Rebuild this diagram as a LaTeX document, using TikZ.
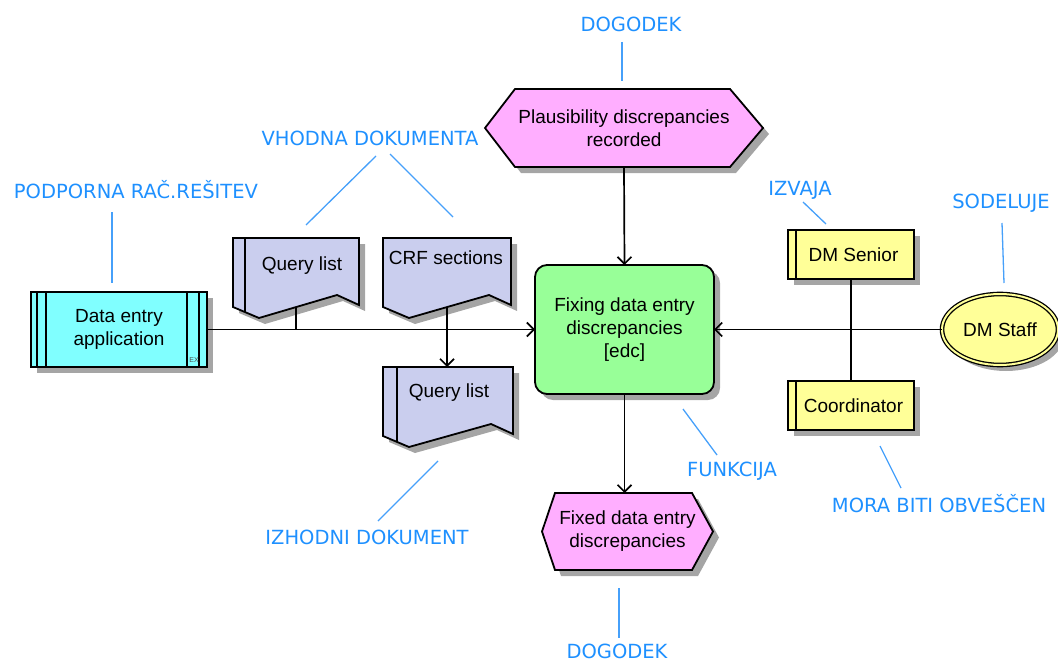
\documentclass[tikz,border=0pt]{standalone}
\usepackage{fontspec}
\setmainfont{Liberation Sans}
\newfontfamily\lblfont{DejaVu Sans}
\usetikzlibrary{arrows.meta,shapes.geometric,shadows,backgrounds}

\definecolor{lblblue}{RGB}{30,144,255}
\definecolor{lnblue}{RGB}{70,160,250}
\definecolor{appfill}{RGB}{128,255,255}
\definecolor{docfill}{RGB}{202,206,238}
\definecolor{evtfill}{RGB}{255,174,255}
\definecolor{fnfill}{RGB}{152,255,152}
\definecolor{orgfill}{RGB}{255,255,152}
\definecolor{shadowgray}{RGB}{165,165,165}

\tikzset{
  txt/.style={font=\fontsize{19}{23}\selectfont, align=center, inner sep=0pt, outer sep=0pt},
  box/.style={txt, draw=black, line width=1.8pt},
  shd/.style={drop shadow={shadow xshift=6pt, shadow yshift=-6pt, fill=shadowgray, opacity=1}},
  evtshape/.style={draw=black, line width=1.8pt, fill=evtfill, shd},
  docshape/.style={draw=black, line width=1.8pt, fill=docfill, shd},
  lbl/.style={font=\lblfont\fontsize{19.5}{23}\selectfont, text=lblblue, inner sep=0pt, text height=14.2pt, text depth=0pt},
  lblline/.style={draw=lnblue, line width=1.3pt},
  conn/.style={draw=black, line width=1.7pt},
  arr/.style={conn, -{Straight Barb[length=7pt, width=14pt]}},
  inner/.style={draw=black, line width=1.5pt},
}

% document symbol: #1,#2 top-left corner, #3 width, #4 name, #5 offset of inner edge (0 = none)
\newcommand\docsym[5]{%
  \begin{scope}[shift={(#1,#2)}]
    \path[docshape] (0,0) -- (#3,0) -- (#3,67) -- (#3-22,57) -- (26,80) -- (0,69) -- cycle;
    \ifnum#5>0 \draw[inner] (#5,0) -- (#5,{69+11*#5/26});\fi
    \coordinate (#4-top) at (#3/2,0);
    \coordinate (#4-tap) at (#3/2,69);
  \end{scope}}

\begin{document}
\begin{tikzpicture}[x=1pt,y=-1pt]
\useasboundingbox (0,0) rectangle (1058,661);

% ---- documents
\docsym{233}{238}{126}{ql1}{12}
\docsym{383}{238}{128}{crf}{0}
\docsym{383}{367}{130}{ql2}{14}
\node[txt] (ql1) at (302,266) {Query list};
\node[txt] (crf) at (446,258) {CRF sections};
\node[txt] (ql2) at (449,393) {Query list};

% ---- application system
\node[box, fill=appfill, shd, minimum width=176pt, minimum height=75pt] (app) at (119,329.5) {Data entry\\application};
\draw[inner] ([xshift=6pt]app.north west) -- ([xshift=6pt]app.south west);
\draw[inner] ([xshift=15pt]app.north west) -- ([xshift=15pt]app.south west);
\draw[inner] ([xshift=-20pt]app.north east) -- ([xshift=-20pt]app.south east);
\draw[inner] ([xshift=-8pt]app.north east) -- ([xshift=-8pt]app.south east);
\node[font=\fontsize{7}{7}\selectfont, text=black!70, inner sep=0pt] (ex) at (194,360) {EX};

% ---- function
\node[box, rounded corners=12pt, fill=fnfill, shd, minimum width=179pt, minimum height=129pt] (edc) at (624.5,329.5) {Fixing data entry\\discrepancies\\{[edc]}};

% ---- events
\node[txt, minimum width=278pt, minimum height=78pt] (plaus) at (624,128) {Plausibility discrepancies\\recorded};
\node[txt, minimum width=171pt, minimum height=77pt] (fix) at (627.5,531.5) {Fixed data entry\\discrepancies};
\begin{scope}[on background layer]
  \path[evtshape] (plaus.west) -- ([xshift=30pt]plaus.north west) -- ([xshift=-33pt]plaus.north east)
    -- (plaus.east) -- ([xshift=-33pt]plaus.south east) -- ([xshift=30pt]plaus.south west) -- cycle;
  \path[evtshape] (fix.west) -- ([xshift=13pt]fix.north west) -- ([xshift=-21pt]fix.north east)
    -- (fix.east) -- ([xshift=-21pt]fix.south east) -- ([xshift=13pt]fix.south west) -- cycle;
\end{scope}

% ---- organisational units
\node[box, fill=orgfill, shd, minimum width=126pt, minimum height=49pt] (sen) at (851,254.5) {\hspace*{5pt}DM Senior};
\draw[inner] ([xshift=8pt]sen.north west) -- ([xshift=8pt]sen.south west);
\node[box, fill=orgfill, shd, minimum width=126pt, minimum height=49pt] (coo) at (851,405.5) {\hspace*{5pt}Coordinator};
\draw[inner] ([xshift=8pt]coo.north west) -- ([xshift=8pt]coo.south west);
\node[txt, ellipse, draw=black, line width=1.3pt, double=orgfill, double distance=2pt, fill=orgfill, shd,
      minimum width=116pt, minimum height=71pt] (staff) at (1000,329.5) {DM Staff};

% ---- connectors
\draw[arr] (app.east) -- (edc.west);
\draw[conn] (ql1-tap) -- (ql1-tap |- app.east);
\draw[arr] (crf-tap) -- (crf-tap |- ql2-top);
\draw[arr] (plaus.south) -- (edc.north);
\draw[arr] (edc.south) -- (edc.south |- fix.north);
\draw[conn] (sen.south) -- (coo.north);
\draw[arr] (staff.west) -- (edc.east);

% ---- annotations
\node[lbl] (t1) at (631,24) {DOGODEK};
\draw[lblline] (622,42) -- (622,81);
\node[lbl] (t2) at (370,138) {VHODNA DOKUMENTA};
\draw[lblline] (376,156) -- (306,225);
\draw[lblline] (390,154) -- (453,217);
\node[lbl] (t3) at (136,191) {PODPORNA RAČ.REŠITEV};
\draw[lblline] (112,212) -- (112,283);
\node[lbl] (t4) at (800,188) {IZVAJA};
\draw[lblline] (803,202) -- (826,224);
\node[lbl] (t5) at (1001,201) {SODELUJE};
\draw[lblline] (1002,223) -- (1004,283);
\node[lbl] (t6) at (732,469) {FUNKCIJA};
\draw[lblline] (683,409) -- (717,455);
\node[lbl] (t7) at (939,505) {MORA BITI OBVEŠČEN};
\draw[lblline] (880,446) -- (901,488);
\node[lbl] (t8) at (367,537) {IZHODNI DOKUMENT};
\draw[lblline] (438,461) -- (378,521);
\node[lbl] (t9) at (617,651) {DOGODEK};
\draw[lblline] (619,588) -- (619,638);
\end{tikzpicture}
\end{document}
